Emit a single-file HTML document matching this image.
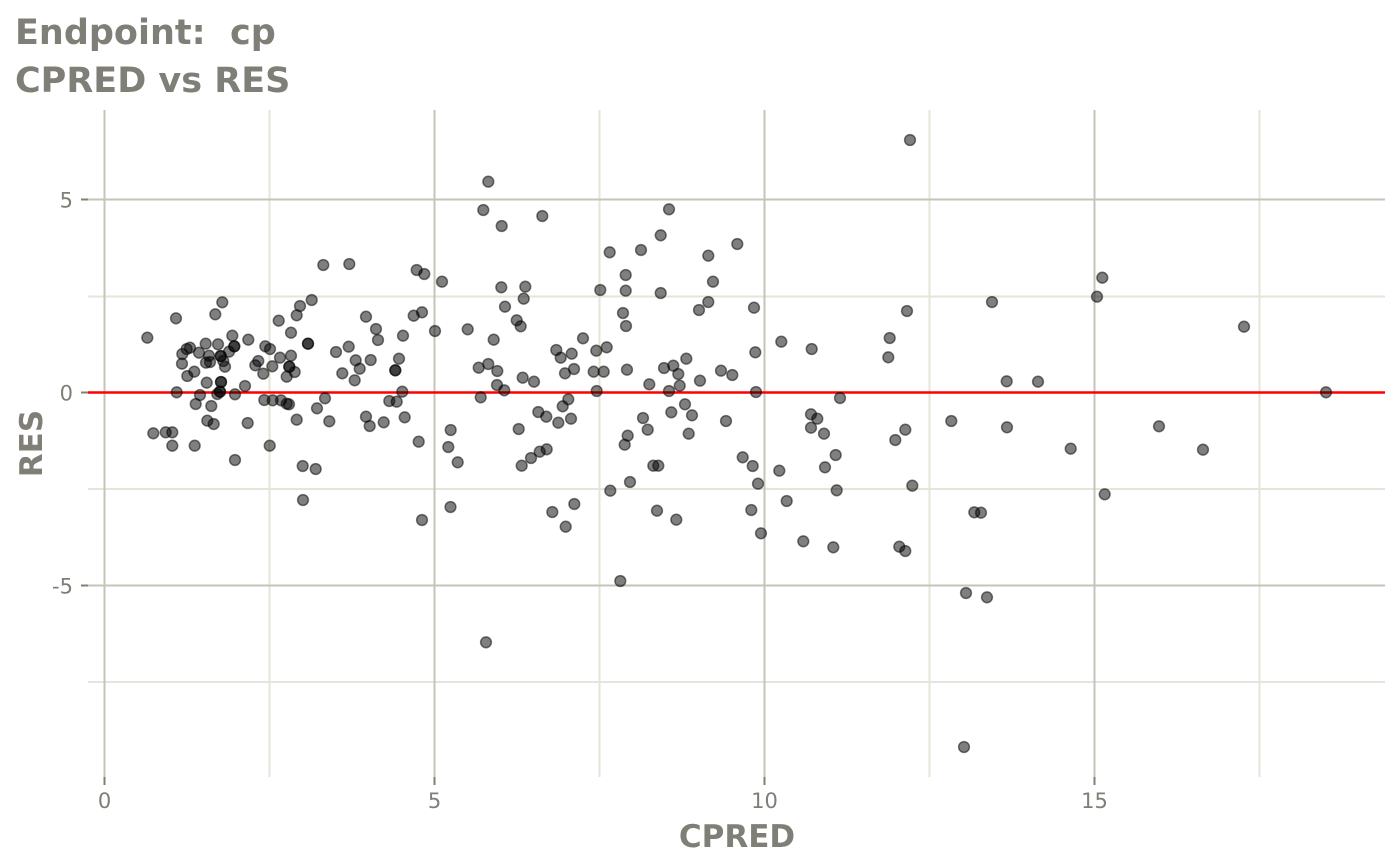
<!DOCTYPE html>
<html>
<head>
<meta charset="utf-8">
<style>
html,body{margin:0;padding:0;background:#ffffff;}
svg{display:block;}
text{font-family:"DejaVu Sans","Liberation Sans",sans-serif;fill:#7f7f77;}
</style>
</head>
<body>
<svg width="1400" height="865" viewBox="0 0 1400 865" xmlns="http://www.w3.org/2000/svg">
<rect x="0" y="0" width="1400" height="865" fill="#ffffff"/>
<!-- minor grid -->
<g stroke="#e5e5d9" stroke-width="2">
<line x1="88" y1="296.5" x2="1385" y2="296.5"/>
<line x1="88" y1="489" x2="1385" y2="489"/>
<line x1="88" y1="682" x2="1385" y2="682"/>
<line x1="269.5" y1="110" x2="269.5" y2="777"/>
<line x1="599.5" y1="110" x2="599.5" y2="777"/>
<line x1="929.5" y1="110" x2="929.5" y2="777"/>
<line x1="1259.5" y1="110" x2="1259.5" y2="777"/>
</g>
<!-- major grid -->
<g stroke="#c4c4b8" stroke-width="2">
<line x1="88" y1="199.5" x2="1385" y2="199.5"/>
<line x1="88" y1="392.5" x2="1385" y2="392.5"/>
<line x1="88" y1="585.5" x2="1385" y2="585.5"/>
<line x1="104.5" y1="110" x2="104.5" y2="777"/>
<line x1="434.5" y1="110" x2="434.5" y2="777"/>
<line x1="764.5" y1="110" x2="764.5" y2="777"/>
<line x1="1094.5" y1="110" x2="1094.5" y2="777"/>
</g>
<!-- ticks -->
<g stroke="#7f7f77" stroke-width="2">
<line x1="104.5" y1="777" x2="104.5" y2="785"/>
<line x1="434.5" y1="777" x2="434.5" y2="785"/>
<line x1="764.5" y1="777" x2="764.5" y2="785"/>
<line x1="1094.5" y1="777" x2="1094.5" y2="785"/>
<line x1="81" y1="199.5" x2="88" y2="199.5"/>
<line x1="81" y1="392.5" x2="88" y2="392.5"/>
<line x1="81" y1="585.5" x2="88" y2="585.5"/>
</g>
<!-- red reference line -->
<line x1="88" y1="392.5" x2="1385" y2="392.5" stroke="#ff0000" stroke-width="2.5"/>
<!-- points -->
<g id="pts" fill="rgba(0,0,0,0.5)" stroke="rgba(0,0,0,0.5)" stroke-width="1.5">
<circle cx="323.3" cy="265" r="5.4"/><circle cx="349.3" cy="264" r="5.4"/><circle cx="416.7" cy="270" r="5.4"/><circle cx="424.3" cy="274" r="5.4"/><circle cx="442" cy="281.7" r="5.4"/><circle cx="222.3" cy="302.3" r="5.4"/><circle cx="311.7" cy="300" r="5.4"/><circle cx="300" cy="306" r="5.4"/><circle cx="296.7" cy="315.3" r="5.4"/><circle cx="176" cy="318.3" r="5.4"/><circle cx="215.3" cy="314.3" r="5.4"/><circle cx="278.7" cy="320.7" r="5.4"/><circle cx="366" cy="316.7" r="5.4"/><circle cx="413.7" cy="315.7" r="5.4"/><circle cx="422" cy="312.3" r="5.4"/><circle cx="147.3" cy="337.7" r="5.4"/><circle cx="291" cy="332.7" r="5.4"/><circle cx="376" cy="329" r="5.4"/><circle cx="378" cy="340" r="5.4"/><circle cx="435" cy="331" r="5.4"/><circle cx="232.3" cy="335.7" r="5.4"/><circle cx="248.3" cy="339.7" r="5.4"/><circle cx="308" cy="343.7" r="5.4"/><circle cx="308" cy="343.7" r="5.4"/><circle cx="403" cy="335.7" r="5.4"/><circle cx="186.7" cy="349" r="5.4"/><circle cx="190" cy="347.7" r="5.4"/><circle cx="205.7" cy="343.7" r="5.4"/><circle cx="218" cy="344.3" r="5.4"/><circle cx="234.3" cy="346.3" r="5.4"/><circle cx="234.3" cy="346.3" r="5.4"/><circle cx="199" cy="352.7" r="5.4"/><circle cx="182.3" cy="354" r="5.4"/><circle cx="209" cy="355.7" r="5.4"/><circle cx="220.7" cy="356" r="5.4"/><circle cx="220.7" cy="356" r="5.4"/><circle cx="229" cy="351.7" r="5.4"/><circle cx="265.3" cy="346.3" r="5.4"/><circle cx="270" cy="349" r="5.4"/><circle cx="280" cy="357.7" r="5.4"/><circle cx="291" cy="355.7" r="5.4"/><circle cx="336" cy="352" r="5.4"/><circle cx="348.7" cy="346.7" r="5.4"/><circle cx="355.7" cy="360.3" r="5.4"/><circle cx="370.7" cy="360" r="5.4"/><circle cx="399" cy="358.7" r="5.4"/><circle cx="182" cy="363.7" r="5.4"/><circle cx="206" cy="362.7" r="5.4"/><circle cx="210" cy="362" r="5.4"/><circle cx="225" cy="366.7" r="5.4"/><circle cx="223.3" cy="361" r="5.4"/><circle cx="258.3" cy="361" r="5.4"/><circle cx="255.3" cy="365.3" r="5.4"/><circle cx="272.3" cy="366.3" r="5.4"/><circle cx="289.3" cy="366.7" r="5.4"/><circle cx="289.3" cy="366.7" r="5.4"/><circle cx="294.7" cy="372" r="5.4"/><circle cx="286.7" cy="376.7" r="5.4"/><circle cx="359.7" cy="368.7" r="5.4"/><circle cx="342.3" cy="373.3" r="5.4"/><circle cx="395.3" cy="370.3" r="5.4"/><circle cx="395.3" cy="370.3" r="5.4"/><circle cx="187.3" cy="376" r="5.4"/><circle cx="194.3" cy="371.7" r="5.4"/><circle cx="263.3" cy="373.7" r="5.4"/><circle cx="354.7" cy="380.3" r="5.4"/><circle cx="206.7" cy="382.7" r="5.4"/><circle cx="221" cy="382" r="5.4"/><circle cx="221" cy="382" r="5.4"/><circle cx="245" cy="386" r="5.4"/><circle cx="176.7" cy="392.3" r="5.4"/><circle cx="200" cy="395" r="5.4"/><circle cx="220" cy="391.7" r="5.4"/><circle cx="220" cy="391.7" r="5.4"/><circle cx="217.3" cy="394" r="5.4"/><circle cx="235" cy="394.3" r="5.4"/><circle cx="402.3" cy="391.7" r="5.4"/><circle cx="195.7" cy="404" r="5.4"/><circle cx="211.3" cy="406" r="5.4"/><circle cx="264.3" cy="400" r="5.4"/><circle cx="272.7" cy="400.3" r="5.4"/><circle cx="281" cy="400.3" r="5.4"/><circle cx="286.7" cy="403.7" r="5.4"/><circle cx="289" cy="404.3" r="5.4"/><circle cx="325" cy="398.3" r="5.4"/><circle cx="317" cy="408.3" r="5.4"/><circle cx="389.3" cy="401" r="5.4"/><circle cx="396.7" cy="401.7" r="5.4"/><circle cx="296.7" cy="419.7" r="5.4"/><circle cx="329.3" cy="421.3" r="5.4"/><circle cx="366" cy="416.7" r="5.4"/><circle cx="369.7" cy="426" r="5.4"/><circle cx="383.7" cy="422.3" r="5.4"/><circle cx="404.7" cy="417.3" r="5.4"/><circle cx="207.3" cy="420.7" r="5.4"/><circle cx="213.7" cy="424" r="5.4"/><circle cx="247.7" cy="423" r="5.4"/><circle cx="153.3" cy="433.3" r="5.4"/><circle cx="165.7" cy="432.3" r="5.4"/><circle cx="172.3" cy="432.3" r="5.4"/><circle cx="172.3" cy="445.7" r="5.4"/><circle cx="194.7" cy="445.7" r="5.4"/><circle cx="269.7" cy="445.7" r="5.4"/><circle cx="235" cy="460" r="5.4"/><circle cx="302.7" cy="466" r="5.4"/><circle cx="315.7" cy="469" r="5.4"/><circle cx="418.7" cy="441.7" r="5.4"/><circle cx="450.7" cy="430" r="5.4"/><circle cx="448.3" cy="447" r="5.4"/><circle cx="457.7" cy="462.3" r="5.4"/><circle cx="303" cy="500" r="5.4"/><circle cx="422" cy="520" r="5.4"/>
<circle cx="488.3" cy="181.7" r="5.4"/><circle cx="483.3" cy="210" r="5.4"/><circle cx="501.7" cy="226" r="5.4"/><circle cx="542.3" cy="216" r="5.4"/><circle cx="669" cy="209.3" r="5.4"/><circle cx="660.7" cy="235.3" r="5.4"/><circle cx="609.7" cy="252.3" r="5.4"/><circle cx="641" cy="250" r="5.4"/><circle cx="708.3" cy="255.7" r="5.4"/><circle cx="737.3" cy="244" r="5.4"/><circle cx="625.7" cy="275" r="5.4"/><circle cx="713" cy="281.7" r="5.4"/><circle cx="501.3" cy="287.3" r="5.4"/><circle cx="525.3" cy="286.7" r="5.4"/><circle cx="523.7" cy="298.7" r="5.4"/><circle cx="600.3" cy="290" r="5.4"/><circle cx="625.7" cy="290.7" r="5.4"/><circle cx="660.7" cy="293" r="5.4"/><circle cx="505" cy="306.7" r="5.4"/><circle cx="708.3" cy="302" r="5.4"/><circle cx="699" cy="310" r="5.4"/><circle cx="754" cy="307.7" r="5.4"/><circle cx="623" cy="313" r="5.4"/><circle cx="626" cy="326" r="5.4"/><circle cx="516.7" cy="320.3" r="5.4"/><circle cx="520.7" cy="326.3" r="5.4"/><circle cx="467.7" cy="329.3" r="5.4"/><circle cx="493.7" cy="339.7" r="5.4"/><circle cx="583" cy="338.3" r="5.4"/><circle cx="556.3" cy="350" r="5.4"/><circle cx="560.7" cy="357.7" r="5.4"/><circle cx="571.7" cy="353.7" r="5.4"/><circle cx="596.3" cy="350.7" r="5.4"/><circle cx="606.7" cy="347.3" r="5.4"/><circle cx="686.3" cy="358.7" r="5.4"/><circle cx="755.3" cy="352.3" r="5.4"/><circle cx="478.7" cy="367.7" r="5.4"/><circle cx="488.3" cy="364" r="5.4"/><circle cx="497.3" cy="371" r="5.4"/><circle cx="522.7" cy="377.7" r="5.4"/><circle cx="534" cy="381.7" r="5.4"/><circle cx="565" cy="373.3" r="5.4"/><circle cx="574" cy="369" r="5.4"/><circle cx="593.7" cy="371.7" r="5.4"/><circle cx="603.7" cy="371.7" r="5.4"/><circle cx="627" cy="369.7" r="5.4"/><circle cx="664" cy="368" r="5.4"/><circle cx="673.3" cy="365.7" r="5.4"/><circle cx="678.3" cy="374" r="5.4"/><circle cx="700" cy="380.7" r="5.4"/><circle cx="721" cy="370.7" r="5.4"/><circle cx="732.3" cy="375" r="5.4"/><circle cx="497" cy="385" r="5.4"/><circle cx="504.3" cy="390.3" r="5.4"/><circle cx="596.7" cy="391" r="5.4"/><circle cx="649.3" cy="384.3" r="5.4"/><circle cx="669" cy="391" r="5.4"/><circle cx="679.7" cy="385.7" r="5.4"/><circle cx="756" cy="392" r="5.4"/><circle cx="480.7" cy="397.3" r="5.4"/><circle cx="568.3" cy="399.3" r="5.4"/><circle cx="562.7" cy="406.3" r="5.4"/><circle cx="538.3" cy="412" r="5.4"/><circle cx="546.3" cy="416.7" r="5.4"/><circle cx="558.3" cy="422.7" r="5.4"/><circle cx="571" cy="418.7" r="5.4"/><circle cx="518.7" cy="429" r="5.4"/><circle cx="685" cy="404.3" r="5.4"/><circle cx="671.3" cy="412.3" r="5.4"/><circle cx="692" cy="415.3" r="5.4"/><circle cx="643" cy="418" r="5.4"/><circle cx="726" cy="421" r="5.4"/><circle cx="647.7" cy="429.7" r="5.4"/><circle cx="627.7" cy="435.7" r="5.4"/><circle cx="688.7" cy="433.7" r="5.4"/>
<circle cx="624.7" cy="444.7" r="5.4"/><circle cx="450.5" cy="507" r="5.4"/><circle cx="521.7" cy="465.7" r="5.4"/><circle cx="531" cy="458" r="5.4"/><circle cx="539.7" cy="451.7" r="5.4"/><circle cx="546.7" cy="449.3" r="5.4"/><circle cx="552.3" cy="512" r="5.4"/><circle cx="574.3" cy="504" r="5.4"/><circle cx="565.7" cy="526.7" r="5.4"/><circle cx="610.3" cy="490.7" r="5.4"/><circle cx="630" cy="482" r="5.4"/><circle cx="653.3" cy="465.7" r="5.4"/><circle cx="658.3" cy="465.7" r="5.4"/><circle cx="657" cy="510.7" r="5.4"/><circle cx="676.3" cy="519.7" r="5.4"/><circle cx="620.3" cy="581" r="5.4"/><circle cx="742.7" cy="457.3" r="5.4"/><circle cx="752.7" cy="466" r="5.4"/><circle cx="758" cy="483.7" r="5.4"/><circle cx="751.3" cy="510" r="5.4"/><circle cx="761" cy="533.3" r="5.4"/><circle cx="779.3" cy="470.7" r="5.4"/><circle cx="486" cy="642.3" r="5.4"/>
<circle cx="992" cy="302" r="5.4"/><circle cx="907" cy="311" r="5.4"/><circle cx="781.3" cy="341.7" r="5.4"/><circle cx="811.7" cy="349" r="5.4"/><circle cx="889.7" cy="338" r="5.4"/><circle cx="888.3" cy="357.3" r="5.4"/><circle cx="1006.7" cy="381.3" r="5.4"/><circle cx="1038" cy="381.7" r="5.4"/><circle cx="840" cy="398" r="5.4"/><circle cx="811" cy="414.3" r="5.4"/><circle cx="817.3" cy="418.7" r="5.4"/><circle cx="811" cy="427.7" r="5.4"/><circle cx="824" cy="433.7" r="5.4"/><circle cx="905.3" cy="429.7" r="5.4"/><circle cx="895.3" cy="440" r="5.4"/><circle cx="951.3" cy="421" r="5.4"/><circle cx="1007" cy="427.3" r="5.4"/><circle cx="835.7" cy="455" r="5.4"/><circle cx="825" cy="467.3" r="5.4"/><circle cx="836.7" cy="490.3" r="5.4"/><circle cx="912.3" cy="485.7" r="5.4"/><circle cx="786.7" cy="501" r="5.4"/><circle cx="974.3" cy="512.3" r="5.4"/><circle cx="981" cy="512.7" r="5.4"/><circle cx="803.3" cy="541.3" r="5.4"/><circle cx="833.3" cy="547.3" r="5.4"/><circle cx="899.3" cy="546.7" r="5.4"/><circle cx="905.3" cy="551" r="5.4"/>
<circle cx="1102.3" cy="277.7" r="5.4"/><circle cx="1097" cy="296.7" r="5.4"/><circle cx="1244" cy="326.7" r="5.4"/><circle cx="1326" cy="392.3" r="5.4"/><circle cx="1070.7" cy="448.7" r="5.4"/><circle cx="1159" cy="426.3" r="5.4"/><circle cx="1203" cy="449.7" r="5.4"/><circle cx="1104.7" cy="494.3" r="5.4"/><circle cx="966" cy="593" r="5.4"/><circle cx="987" cy="597.3" r="5.4"/><circle cx="910" cy="140" r="5.4"/><circle cx="964" cy="747" r="5.4"/>
</g>
<!-- tick labels -->
<g font-size="21">
<text x="104.5" y="808" text-anchor="middle">0</text>
<text x="434.5" y="808" text-anchor="middle">5</text>
<text x="764.5" y="808" text-anchor="middle">10</text>
<text x="1094.5" y="808" text-anchor="middle">15</text>
<text x="73" y="207.5" text-anchor="end">5</text>
<text x="73" y="400.5" text-anchor="end">0</text>
<text x="73" y="593.5" text-anchor="end">-5</text>
</g>
<!-- axis titles -->
<text x="737" y="847" text-anchor="middle" font-size="31" font-weight="bold">CPRED</text>
<text transform="translate(42,443.5) rotate(-90)" text-anchor="middle" font-size="31" font-weight="bold">RES</text>
<!-- titles -->
<text x="15" y="44" font-size="35" font-weight="bold" xml:space="preserve" style="white-space:pre">Endpoint:  cp</text>
<text x="15" y="92" font-size="35" font-weight="bold">CPRED vs RES</text>
</svg>
</body>
</html>
